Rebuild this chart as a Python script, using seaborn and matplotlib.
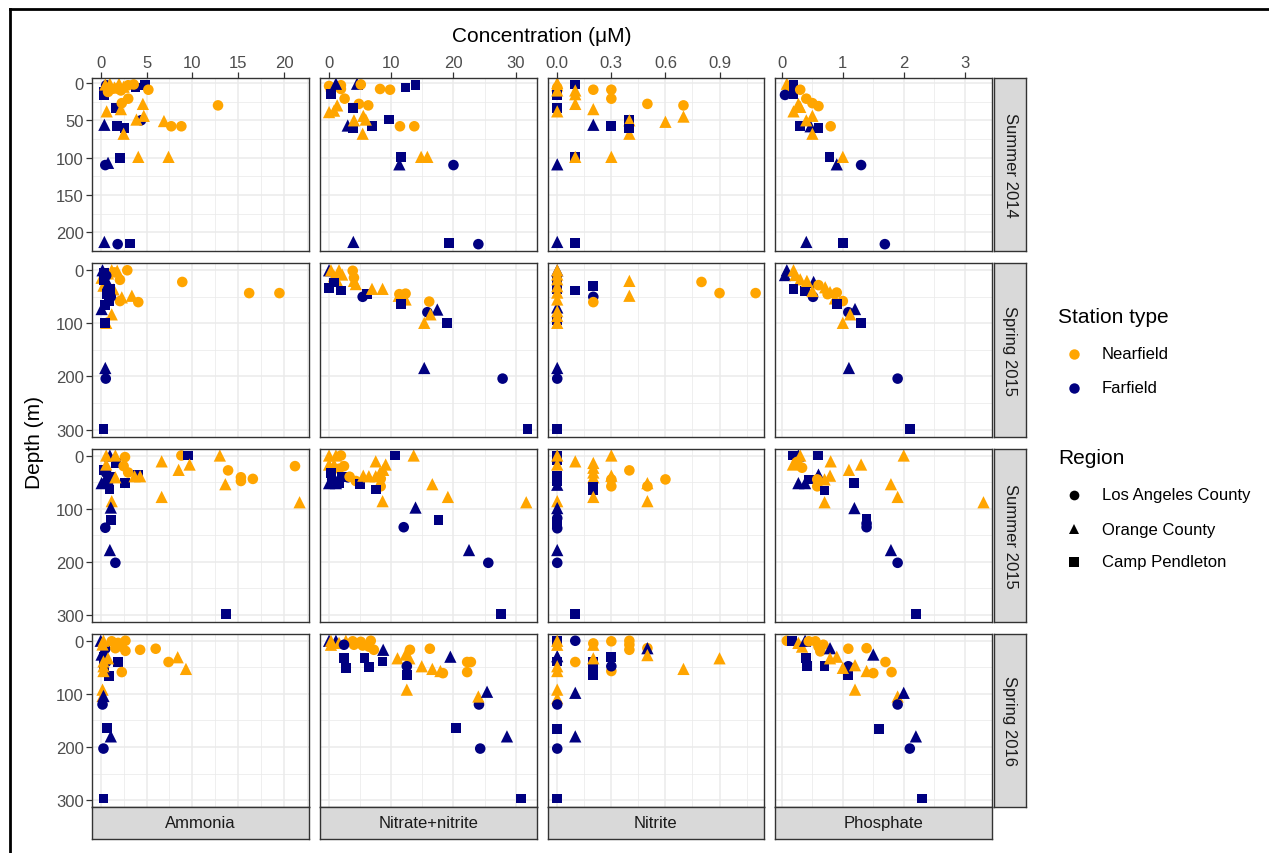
import numpy as np
import pandas as pd
import seaborn as sns
import matplotlib.pyplot as plt
from matplotlib.lines import Line2D
from matplotlib.ticker import FormatStrFormatter

# facet labels
seasons = ['Summer 2014', 'Spring 2015', 'Summer 2015', 'Spring 2016']
nutrients = ['Ammonia', 'Nitrate+nitrite', 'Nitrite', 'Phosphate']

# points per panel: (concentration uM, depth m, station type, region)
# N = Nearfield, F = Farfield ; LA / OC / CP = region
su14_amm = [(0.6, 3, 'F', 'LA'), (0.3, 12, 'F', 'CP'), (0.4, 16, 'F', 'CP'), (3.8, 6, 'F', 'CP'),
            (4.8, 3, 'F', 'CP'), (1.0, 5, 'F', 'OC'), (1.7, 34, 'F', 'CP'), (4.4, 50, 'F', 'LA'),
            (0.4, 56, 'F', 'OC'), (1.8, 58, 'F', 'CP'), (2.6, 60, 'F', 'CP'),
            (0.5, 2, 'N', 'OC'), (1.0, 1, 'N', 'OC'), (2.0, 1, 'N', 'OC'), (1.5, 6, 'N', 'OC'),
            (2.5, 5, 'N', 'OC'), (3.0, 3, 'N', 'LA'), (1.2, 8, 'N', 'LA'), (2.2, 10, 'N', 'LA'),
            (3.6, 2, 'N', 'LA'), (0.8, 12, 'N', 'LA'), (1.8, 7, 'N', 'LA'), (5.2, 9, 'N', 'LA'),
            (3.0, 21, 'N', 'LA'), (2.3, 27, 'N', 'LA'), (12.8, 30, 'N', 'LA'), (4.6, 28, 'N', 'OC'),
            (0.65, 38, 'N', 'OC'), (2.2, 35, 'N', 'OC'), (4.7, 44, 'N', 'OC'), (3.9, 49, 'N', 'OC'),
            (6.9, 51, 'N', 'OC'), (7.7, 58, 'N', 'LA'), (8.8, 58, 'N', 'LA'), (2.5, 68, 'N', 'OC'),
            (4.1, 99, 'N', 'OC'), (7.4, 99, 'N', 'OC'),
            (2.1, 100, 'F', 'CP'), (0.5, 110, 'F', 'LA'), (0.8, 107, 'F', 'OC'), (0.4, 213, 'F', 'OC'),
            (1.85, 216, 'F', 'LA'), (3.2, 215, 'F', 'CP')]

su14_no3 = [(0.0, 4, 'N', 'LA'), (0.3, 10, 'N', 'LA'), (1.9, 3, 'N', 'LA'), (1.9, 8, 'N', 'LA'),
            (1.1, 1, 'F', 'OC'), (0.3, 15, 'F', 'CP'), (4.5, 1, 'F', 'OC'), (5.1, 2, 'N', 'LA'),
            (8.2, 8, 'N', 'LA'), (9.8, 9, 'N', 'LA'), (12.3, 6, 'F', 'CP'), (13.9, 3, 'F', 'CP'),
            (2.5, 21, 'N', 'LA'), (4.8, 28, 'N', 'LA'), (6.3, 30, 'N', 'LA'), (1.3, 30, 'N', 'OC'),
            (0.8, 37, 'N', 'OC'), (0.0, 39, 'N', 'OC'), (3.9, 34, 'F', 'CP'), (3.0, 57, 'F', 'OC'),
            (3.9, 61, 'F', 'CP'), (6.9, 58, 'F', 'CP'), (9.6, 49, 'F', 'CP'), (5.5, 44, 'N', 'OC'),
            (5.9, 49, 'N', 'OC'), (4.0, 50, 'N', 'OC'), (11.4, 58, 'N', 'LA'), (13.7, 58, 'N', 'LA'),
            (5.4, 68, 'N', 'OC'), (11.5, 99, 'F', 'CP'), (11.3, 109, 'F', 'OC'), (14.8, 99, 'N', 'OC'),
            (15.8, 99, 'N', 'OC'), (20.0, 110, 'F', 'LA'), (3.9, 213, 'F', 'OC'), (19.3, 214, 'F', 'CP'),
            (24.0, 216, 'F', 'LA')]

su14_no2 = [(0.0, 0, 'N', 'OC'), (0.0, 3, 'N', 'OC'), (0.0, 6, 'N', 'LA'), (0.0, 16, 'F', 'CP'),
            (0.0, 10, 'N', 'OC'), (0.1, 2, 'F', 'CP'), (0.1, 10, 'N', 'OC'), (0.1, 15, 'N', 'OC'),
            (0.2, 9, 'N', 'LA'), (0.3, 9, 'N', 'LA'), (0.3, 21, 'N', 'LA'), (0.5, 28, 'N', 'LA'),
            (0.7, 30, 'N', 'LA'), (0.1, 28, 'N', 'OC'), (0.7, 45, 'N', 'OC'), (0.6, 52, 'N', 'OC'),
            (0.0, 34, 'F', 'CP'), (0.0, 38, 'N', 'OC'), (0.2, 35, 'N', 'OC'), (0.2, 56, 'F', 'OC'),
            (0.3, 58, 'F', 'CP'), (0.4, 49, 'F', 'CP'), (0.4, 50, 'N', 'OC'), (0.4, 68, 'N', 'OC'),
            (0.4, 61, 'F', 'CP'), (0.1, 99, 'F', 'CP'), (0.1, 99, 'N', 'OC'), (0.3, 99, 'N', 'OC'),
            (0.0, 109, 'F', 'OC'), (0.0, 213, 'F', 'OC'), (0.1, 214, 'F', 'CP')]

su14_po4 = [(0.08, 1, 'N', 'OC'), (0.12, 5, 'N', 'OC'), (0.1, 10, 'N', 'OC'), (0.15, 3, 'N', 'LA'),
            (0.19, 2, 'F', 'CP'), (0.19, 15, 'F', 'CP'), (0.05, 16, 'F', 'LA'), (0.3, 9, 'N', 'LA'),
            (0.4, 21, 'N', 'LA'), (0.5, 27, 'N', 'LA'), (0.6, 31, 'N', 'LA'), (0.19, 38, 'N', 'OC'),
            (0.3, 32, 'N', 'OC'), (0.27, 28, 'N', 'OC'), (0.29, 58, 'F', 'CP'), (0.6, 60, 'F', 'CP'),
            (0.47, 58, 'F', 'OC'), (0.5, 44, 'N', 'OC'), (0.4, 50, 'N', 'OC'), (0.8, 58, 'N', 'LA'),
            (0.5, 68, 'N', 'OC'), (0.78, 99, 'F', 'CP'), (0.9, 109, 'F', 'OC'), (1.0, 99, 'N', 'OC'),
            (1.3, 110, 'F', 'LA'), (0.4, 213, 'F', 'OC'), (1.0, 214, 'F', 'CP'), (1.69, 216, 'F', 'LA')]

sp15_amm = [(0.6, 99, 'N', 'OC'), (1.2, 83, 'N', 'OC'), (2.9, 0, 'N', 'LA'), (2.1, 18, 'N', 'LA'),
            (8.9, 22, 'N', 'LA'), (16.2, 43, 'N', 'LA'), (19.5, 43, 'N', 'LA'), (4.1, 60, 'N', 'LA'),
            (2.1, 58, 'N', 'LA'), (3.4, 48, 'N', 'OC'), (2.3, 51, 'N', 'OC'), (1.4, 36, 'N', 'OC'),
            (0.1, 14, 'N', 'OC'), (0.3, 29, 'N', 'OC'), (1.2, 0, 'N', 'OC'), (1.8, 1, 'N', 'OC'),
            (0.8, 6, 'N', 'OC'), (1.5, 4, 'N', 'LA'),
            (0.2, 0, 'F', 'OC'), (0.4, 5, 'F', 'CP'), (0.6, 10, 'F', 'LA'), (0.3, 18, 'F', 'CP'),
            (0.8, 25, 'F', 'OC'), (1.0, 35, 'F', 'CP'), (0.7, 45, 'F', 'CP'), (1.1, 50, 'F', 'LA'),
            (0.9, 58, 'F', 'CP'), (0.5, 65, 'F', 'CP'), (0.1, 73, 'F', 'OC'), (0.5, 99, 'F', 'CP'),
            (0.5, 184, 'F', 'OC'), (0.55, 204, 'F', 'LA'), (0.3, 299, 'F', 'CP')]

sp15_no3 = [(0.0, 0, 'F', 'OC'), (0.3, 0, 'N', 'OC'), (1.6, 0, 'N', 'OC'), (0.8, 11, 'N', 'OC'),
            (2.1, 8, 'N', 'OC'), (1.3, 20, 'N', 'OC'), (0.0, 33, 'F', 'CP'), (1.9, 38, 'F', 'CP'),
            (0.8, 23, 'F', 'CP'), (3.8, 1, 'N', 'LA'), (4.0, 14, 'N', 'LA'), (4.0, 20, 'N', 'OC'),
            (4.3, 26, 'N', 'OC'), (5.4, 50, 'F', 'LA'), (6.1, 45, 'F', 'CP'), (6.9, 35, 'N', 'OC'),
            (8.6, 35, 'N', 'OC'), (11.3, 45, 'N', 'LA'), (12.3, 44, 'N', 'LA'), (11.2, 48, 'N', 'OC'),
            (12.3, 55, 'N', 'OC'), (11.5, 64, 'F', 'CP'), (16.1, 59, 'N', 'LA'), (15.8, 79, 'F', 'LA'),
            (17.4, 74, 'F', 'OC'), (16.3, 83, 'N', 'OC'), (15.3, 99, 'N', 'OC'), (18.9, 100, 'F', 'CP'),
            (15.3, 184, 'F', 'OC'), (27.9, 204, 'F', 'LA'), (31.9, 299, 'F', 'CP')]

sp15_no2 = [(0.0, 0, 'F', 'OC'), (0.0, 20, 'F', 'CP'), (0.0, 36, 'F', 'CP'), (0.0, 70, 'F', 'OC'),
            (0.0, 93, 'F', 'CP'), (0.0, 0, 'N', 'OC'), (0.0, 8, 'N', 'OC'), (0.0, 17, 'N', 'OC'),
            (0.0, 30, 'N', 'OC'), (0.0, 42, 'N', 'OC'), (0.0, 55, 'N', 'OC'), (0.0, 77, 'N', 'OC'),
            (0.0, 86, 'N', 'OC'), (0.0, 99, 'N', 'OC'), (0.1, 38, 'F', 'CP'), (0.2, 30, 'F', 'CP'),
            (0.2, 50, 'F', 'LA'), (0.2, 60, 'N', 'LA'), (0.4, 20, 'N', 'OC'), (0.4, 48, 'N', 'OC'),
            (0.8, 22, 'N', 'LA'), (0.9, 43, 'N', 'LA'), (1.1, 43, 'N', 'LA'), (0.0, 184, 'F', 'OC'),
            (0.0, 204, 'F', 'LA'), (0.0, 299, 'F', 'CP')]

sp15_po4 = [(0.08, 0, 'F', 'OC'), (0.05, 9, 'F', 'OC'), (0.19, 0, 'N', 'OC'), (0.22, 9, 'N', 'OC'),
            (0.3, 17, 'N', 'OC'), (0.19, 36, 'F', 'CP'), (0.38, 39, 'F', 'CP'), (0.52, 22, 'F', 'OC'),
            (0.51, 50, 'F', 'LA'), (0.41, 20, 'N', 'OC'), (0.71, 32, 'N', 'OC'), (0.79, 41, 'N', 'OC'),
            (0.6, 28, 'N', 'LA'), (0.75, 45, 'N', 'LA'), (0.9, 42, 'N', 'LA'), (1.0, 58, 'N', 'LA'),
            (0.87, 53, 'N', 'OC'), (0.5, 39, 'N', 'OC'), (0.9, 64, 'F', 'CP'), (1.09, 79, 'F', 'LA'),
            (1.2, 73, 'F', 'OC'), (1.12, 83, 'N', 'OC'), (1.0, 99, 'N', 'OC'), (1.3, 100, 'F', 'CP'),
            (1.1, 184, 'F', 'OC'), (1.9, 204, 'F', 'LA'), (2.1, 299, 'F', 'CP')]

su15_amm = [(0.3, 27, 'F', 'CP'), (0.6, 33, 'F', 'LA'), (1.0, 40, 'F', 'CP'), (0.5, 45, 'F', 'OC'),
            (0.1, 52, 'F', 'OC'), (0.95, 64, 'F', 'CP'), (0.8, 55, 'F', 'LA'), (2.65, 52, 'F', 'CP'),
            (4.1, 36, 'F', 'CP'), (1.0, 0, 'F', 'OC'), (1.7, 14, 'F', 'CP'),
            (0.6, 0, 'N', 'OC'), (1.6, 0, 'N', 'OC'), (0.6, 17, 'N', 'OC'), (2.65, 3, 'N', 'LA'),
            (2.5, 20, 'N', 'LA'), (3.0, 32, 'N', 'LA'), (1.6, 41, 'N', 'OC'), (3.7, 39, 'N', 'OC'),
            (4.3, 39, 'N', 'OC'), (1.2, 86, 'N', 'OC'), (6.65, 11, 'N', 'OC'), (6.65, 78, 'N', 'OC'),
            (8.8, 0, 'N', 'LA'), (9.5, 0, 'F', 'CP'), (9.7, 17, 'N', 'OC'), (8.5, 27, 'N', 'OC'),
            (13.0, 0, 'N', 'OC'), (13.6, 54, 'N', 'OC'), (13.9, 28, 'N', 'LA'), (15.3, 41, 'N', 'LA'),
            (15.3, 48, 'N', 'LA'), (16.6, 44, 'N', 'LA'), (21.2, 20, 'N', 'LA'), (21.7, 88, 'N', 'OC'),
            (1.1, 98, 'F', 'OC'), (1.1, 122, 'F', 'CP'), (0.5, 136, 'F', 'LA'), (1.0, 178, 'F', 'OC'),
            (1.6, 202, 'F', 'LA'), (13.7, 299, 'F', 'CP')]

su15_no3 = [(0.0, 0, 'N', 'OC'), (1.1, 0, 'N', 'OC'), (1.9, 0, 'N', 'LA'), (0.0, 17, 'N', 'OC'),
            (0.8, 17, 'N', 'OC'), (2.4, 20, 'N', 'LA'), (1.6, 25, 'N', 'LA'),
            (0.0, 52, 'F', 'OC'), (1.1, 52, 'F', 'OC'), (2.1, 40, 'F', 'CP'), (1.6, 52, 'F', 'CP'),
            (0.3, 33, 'F', 'CP'), (0.5, 45, 'F', 'LA'), (3.0, 41, 'F', 'LA'), (3.3, 40, 'N', 'LA'),
            (4.3, 48, 'N', 'LA'), (5.0, 53, 'F', 'CP'), (5.5, 38, 'N', 'OC'), (6.4, 39, 'N', 'OC'),
            (7.5, 39, 'N', 'OC'), (7.5, 11, 'N', 'OC'), (9.1, 17, 'N', 'OC'), (8.7, 27, 'N', 'OC'),
            (8.2, 32, 'N', 'OC'), (8.3, 44, 'N', 'LA'), (8.3, 58, 'N', 'LA'), (7.5, 64, 'F', 'CP'),
            (8.6, 86, 'N', 'OC'), (10.6, 0, 'F', 'CP'), (13.6, 0, 'N', 'OC'), (16.6, 54, 'N', 'OC'),
            (19.1, 78, 'N', 'OC'), (31.7, 88, 'N', 'OC'), (13.9, 98, 'F', 'OC'), (12.0, 135, 'F', 'LA'),
            (17.6, 122, 'F', 'CP'), (22.5, 178, 'F', 'OC'), (25.6, 202, 'F', 'LA'), (27.6, 299, 'F', 'CP')]

su15_no2 = [(0.0, 0, 'F', 'CP'), (0.0, 8, 'F', 'CP'), (0.0, 39, 'F', 'CP'), (0.0, 48, 'F', 'CP'),
            (0.0, 55, 'F', 'OC'), (0.0, 0, 'N', 'OC'), (0.0, 17, 'N', 'OC'), (0.0, 86, 'N', 'OC'),
            (0.0, 99, 'F', 'OC'), (0.0, 118, 'F', 'LA'), (0.0, 127, 'F', 'CP'), (0.0, 137, 'F', 'LA'),
            (0.1, 11, 'N', 'OC'), (0.2, 14, 'N', 'OC'), (0.2, 23, 'N', 'OC'), (0.2, 32, 'N', 'OC'),
            (0.2, 41, 'N', 'OC'), (0.2, 60, 'F', 'CP'), (0.2, 66, 'F', 'CP'), (0.2, 78, 'N', 'OC'),
            (0.3, 0, 'N', 'OC'), (0.3, 38, 'N', 'OC'), (0.3, 45, 'N', 'LA'), (0.3, 58, 'N', 'LA'),
            (0.4, 28, 'N', 'LA'), (0.5, 52, 'N', 'OC'), (0.5, 86, 'N', 'OC'), (0.5, 58, 'N', 'LA'),
            (0.6, 45, 'N', 'LA'), (0.0, 178, 'F', 'OC'), (0.0, 202, 'F', 'LA'), (0.1, 299, 'F', 'CP')]

su15_po4 = [(0.18, 0, 'F', 'CP'), (0.27, 0, 'F', 'OC'), (0.18, 17, 'N', 'OC'), (0.3, 0, 'N', 'OC'),
            (0.33, 23, 'N', 'LA'), (0.25, 12, 'N', 'LA'), (0.59, 0, 'F', 'CP'), (0.27, 52, 'F', 'OC'),
            (0.38, 52, 'F', 'OC'), (0.6, 36, 'F', 'OC'), (0.44, 45, 'F', 'CP'), (0.58, 45, 'N', 'LA'),
            (0.58, 58, 'N', 'LA'), (0.7, 45, 'N', 'OC'), (0.79, 38, 'N', 'OC'), (0.7, 66, 'F', 'CP'),
            (0.7, 88, 'N', 'OC'), (0.8, 11, 'N', 'OC'), (1.1, 27, 'N', 'OC'), (1.3, 17, 'N', 'OC'),
            (1.19, 52, 'F', 'CP'), (2.0, 0, 'N', 'OC'), (1.79, 54, 'N', 'OC'), (1.9, 78, 'N', 'OC'),
            (1.19, 99, 'F', 'OC'), (1.39, 120, 'F', 'CP'), (1.39, 128, 'F', 'LA'), (1.39, 135, 'F', 'LA'),
            (1.79, 178, 'F', 'OC'), (1.9, 202, 'F', 'LA'), (2.2, 299, 'F', 'CP'), (3.31, 88, 'N', 'OC')]

sp16_amm = [(0.5, 15, 'F', 'LA'), (0.3, 30, 'F', 'CP'), (0.6, 40, 'F', 'LA'), (0.4, 50, 'F', 'CP'),
            (0.9, 67, 'F', 'CP'), (1.9, 40, 'F', 'CP'), (0.1, 26, 'F', 'OC'), (0.0, 0, 'F', 'OC'),
            (0.3, 0, 'N', 'OC'), (0.2, 7, 'N', 'OC'), (1.2, 1, 'N', 'LA'), (1.9, 4, 'N', 'LA'),
            (2.7, 0, 'N', 'LA'), (2.3, 11, 'N', 'LA'), (2.7, 19, 'N', 'LA'), (1.6, 14, 'N', 'LA'),
            (4.3, 17, 'N', 'LA'), (6.0, 15, 'N', 'LA'), (7.4, 40, 'N', 'LA'), (8.4, 31, 'N', 'OC'),
            (9.3, 53, 'N', 'OC'), (0.3, 39, 'N', 'OC'), (0.3, 48, 'N', 'OC'), (0.3, 57, 'N', 'OC'),
            (0.8, 33, 'N', 'OC'), (2.3, 59, 'N', 'LA'), (0.2, 92, 'N', 'OC'), (0.2, 104, 'N', 'OC'),
            (0.3, 104, 'F', 'OC'), (0.2, 120, 'F', 'LA'), (0.7, 165, 'F', 'CP'), (1.1, 180, 'F', 'OC'),
            (0.3, 203, 'F', 'LA'), (0.3, 297, 'F', 'CP')]

sp16_no3 = [(0.0, 0, 'F', 'OC'), (1.1, 0, 'F', 'OC'), (0.3, 0, 'N', 'OC'), (0.3, 7.5, 'N', 'OC'),
            (1.6, 4, 'N', 'OC'), (2.7, 0, 'N', 'OC'), (3.8, 1, 'N', 'LA'), (5.1, 2, 'N', 'LA'),
            (6.7, 0, 'N', 'LA'), (6.4, 11, 'N', 'LA'), (7.2, 17, 'N', 'LA'), (4.0, 7.5, 'N', 'LA'),
            (5.4, 9, 'N', 'LA'), (2.4, 7.5, 'F', 'LA'), (8.7, 17, 'F', 'OC'), (8.6, 39, 'F', 'CP'),
            (2.4, 33, 'F', 'CP'), (2.7, 51, 'F', 'CP'), (5.7, 33, 'F', 'CP'), (6.4, 50, 'F', 'CP'),
            (11.0, 33, 'N', 'OC'), (12.3, 26, 'N', 'OC'), (12.9, 33, 'N', 'OC'), (13.0, 17, 'N', 'LA'),
            (12.5, 48, 'F', 'LA'), (12.5, 64, 'F', 'CP'), (12.5, 92, 'N', 'OC'), (16.2, 15, 'N', 'LA'),
            (14.9, 48, 'N', 'OC'), (16.6, 53, 'N', 'OC'), (17.9, 57, 'N', 'OC'), (18.3, 61, 'N', 'LA'),
            (19.5, 30, 'F', 'OC'), (22.2, 40, 'N', 'LA'), (22.8, 40, 'N', 'LA'), (22.2, 59, 'N', 'LA'),
            (24.1, 120, 'F', 'LA'), (24.0, 105, 'N', 'OC'), (25.4, 96, 'F', 'OC'), (20.4, 165, 'F', 'CP'),
            (24.3, 203, 'F', 'LA'), (28.6, 180, 'F', 'OC'), (30.8, 297, 'F', 'CP')]

sp16_no2 = [(0.0, 0, 'F', 'CP'), (0.0, 29, 'F', 'OC'), (0.0, 39, 'F', 'CP'), (0.0, 0, 'N', 'OC'),
            (0.0, 7.5, 'N', 'OC'), (0.0, 48, 'N', 'OC'), (0.0, 57, 'N', 'OC'), (0.0, 92, 'N', 'OC'),
            (0.0, 108, 'N', 'OC'), (0.0, 120, 'F', 'LA'), (0.0, 166, 'F', 'CP'), (0.0, 203, 'F', 'LA'),
            (0.0, 297, 'F', 'CP'), (0.1, 0, 'F', 'LA'), (0.1, 40, 'N', 'LA'), (0.1, 98, 'F', 'OC'),
            (0.1, 180, 'F', 'OC'), (0.2, 7.5, 'N', 'OC'), (0.2, 5, 'N', 'LA'), (0.2, 39, 'F', 'CP'),
            (0.2, 51, 'F', 'CP'), (0.2, 64, 'F', 'CP'), (0.2, 33, 'N', 'OC'), (0.3, 1, 'N', 'LA'),
            (0.3, 57, 'N', 'LA'), (0.3, 31, 'F', 'CP'), (0.3, 48, 'F', 'LA'), (0.4, 0, 'N', 'LA'),
            (0.4, 7.5, 'N', 'LA'), (0.4, 17, 'N', 'LA'), (0.5, 14, 'N', 'LA'), (0.5, 14, 'F', 'OC'),
            (0.5, 27, 'N', 'OC'), (0.7, 53, 'N', 'OC'), (0.9, 33, 'N', 'OC')]

sp16_po4 = [(0.08, 0, 'N', 'LA'), (0.17, 0, 'F', 'CP'), (0.27, 4, 'N', 'OC'), (0.33, 11, 'N', 'OC'),
            (0.38, 0, 'F', 'OC'), (0.44, 1, 'N', 'LA'), (0.55, 1, 'N', 'LA'), (0.6, 11, 'N', 'LA'),
            (0.68, 7.5, 'N', 'LA'), (0.63, 20, 'N', 'LA'), (0.79, 14, 'F', 'OC'), (1.09, 15, 'N', 'LA'),
            (1.39, 14, 'N', 'LA'), (1.5, 26, 'F', 'OC'), (0.39, 33, 'F', 'CP'), (0.41, 48, 'F', 'CP'),
            (0.7, 48, 'F', 'CP'), (1.09, 48, 'F', 'LA'), (1.09, 64, 'F', 'CP'), (0.79, 33, 'N', 'OC'),
            (0.9, 30, 'N', 'OC'), (1.0, 51, 'N', 'OC'), (1.2, 46, 'N', 'OC'), (1.39, 57, 'N', 'OC'),
            (1.5, 61, 'N', 'LA'), (1.7, 40, 'N', 'LA'), (1.8, 59, 'N', 'LA'), (1.2, 92, 'N', 'OC'),
            (1.9, 105, 'N', 'OC'), (1.9, 120, 'F', 'LA'), (2.0, 98, 'F', 'OC'), (1.6, 166, 'F', 'CP'),
            (2.2, 180, 'F', 'OC'), (2.1, 203, 'F', 'LA'), (2.3, 297, 'F', 'CP')]

panels = {
    ('Summer 2014', 'Ammonia'): su14_amm, ('Summer 2014', 'Nitrate+nitrite'): su14_no3,
    ('Summer 2014', 'Nitrite'): su14_no2, ('Summer 2014', 'Phosphate'): su14_po4,
    ('Spring 2015', 'Ammonia'): sp15_amm, ('Spring 2015', 'Nitrate+nitrite'): sp15_no3,
    ('Spring 2015', 'Nitrite'): sp15_no2, ('Spring 2015', 'Phosphate'): sp15_po4,
    ('Summer 2015', 'Ammonia'): su15_amm, ('Summer 2015', 'Nitrate+nitrite'): su15_no3,
    ('Summer 2015', 'Nitrite'): su15_no2, ('Summer 2015', 'Phosphate'): su15_po4,
    ('Spring 2016', 'Ammonia'): sp16_amm, ('Spring 2016', 'Nitrate+nitrite'): sp16_no3,
    ('Spring 2016', 'Nitrite'): sp16_no2, ('Spring 2016', 'Phosphate'): sp16_po4,
}

station_names = {'N': 'Nearfield', 'F': 'Farfield'}
region_names = {'LA': 'Los Angeles County', 'OC': 'Orange County', 'CP': 'Camp Pendleton'}

rows = []
for (season, nut), pts in panels.items():
    for conc, depth, st, reg in pts:
        rows.append([season, nut, conc, depth, station_names[st], region_names[reg]])
df = pd.DataFrame(rows, columns=['season', 'nutrient', 'conc', 'depth', 'station', 'region'])

# styling
plt.rcParams['font.family'] = ['Liberation Sans', 'DejaVu Sans']
pal = {'Nearfield': '#FFA500', 'Farfield': '#000080'}
mk = {'Los Angeles County': 'o', 'Orange County': '^', 'Camp Pendleton': 's'}
# ggplot's filled triangle is drawn a bit bigger than its circle / square
msize = {'Los Angeles County': 58, 'Orange County': 78, 'Camp Pendleton': 50}

# scales per column / row (free x by nutrient, free y by season)
xlims = {'Ammonia': (-0.95, 22.7), 'Nitrate+nitrite': (-1.5, 33.35),
         'Nitrite': (-0.054, 1.148), 'Phosphate': (-0.11, 3.45)}
xmajor = {'Ammonia': [0, 5, 10, 15, 20], 'Nitrate+nitrite': [0, 10, 20, 30],
          'Nitrite': [0, 0.3, 0.6, 0.9], 'Phosphate': [0, 1, 2, 3]}
xminor = {'Ammonia': [2.5, 7.5, 12.5, 17.5, 22.5], 'Nitrate+nitrite': [5, 15, 25],
          'Nitrite': [0.15, 0.45, 0.75, 1.05], 'Phosphate': [0.5, 1.5, 2.5]}
ylims = [(225.5, -6.7), (313, -13.2), (313, -13.2), (313, -13.2)]
ymajor = [[0, 50, 100, 150, 200], [0, 100, 200, 300], [0, 100, 200, 300], [0, 100, 200, 300]]
yminor = [[25, 75, 125, 175], [50, 150, 250], [50, 150, 250], [50, 150, 250]]

W, H = 1269, 854
fig = plt.figure(figsize=(W / 100, H / 100), dpi=100)

left0, top0 = 92, 79
pw, ph = 216.75, 173.25
hgap, vgap = 11, 12
border = '#333333'

for i, season in enumerate(seasons):
    for j, nut in enumerate(nutrients):
        x0 = left0 + j * (pw + hgap)
        y0 = top0 + i * (ph + vgap)
        ax = fig.add_axes([x0 / W, 1 - (y0 + ph) / H, pw / W, ph / H])
        sub = df[(df['season'] == season) & (df['nutrient'] == nut)]
        sns.scatterplot(data=sub, x='conc', y='depth', hue='station', style='region',
                        size='region', sizes=msize, palette=pal, markers=mk,
                        linewidth=0, legend=False, ax=ax)
        ax.set_xlim(xlims[nut])
        ax.set_ylim(ylims[i])
        ax.set_xticks(xmajor[nut])
        ax.set_xticks(xminor[nut], minor=True)
        ax.set_yticks(ymajor[i])
        ax.set_yticks(yminor[i], minor=True)
        if nut == 'Nitrite':
            ax.xaxis.set_major_formatter(FormatStrFormatter('%.1f'))
        else:
            ax.xaxis.set_major_formatter(FormatStrFormatter('%g'))
        ax.grid(which='major', color='#EBEBEB', lw=1.1)
        ax.grid(which='minor', color='#EBEBEB', lw=0.55)
        ax.set_axisbelow(True)
        ax.set_facecolor('white')
        for sp in ax.spines.values():
            sp.set_color(border)
            sp.set_linewidth(1.0)
        ax.set_xlabel('')
        ax.set_ylabel('')
        ax.tick_params(which='minor', length=0)
        ax.tick_params(which='major', length=4, width=0.9, color=border,
                       labelsize=12, labelcolor='#4D4D4D', pad=2)
        # x axis only on top row, at the top
        ax.tick_params(axis='x', bottom=False, labelbottom=False,
                       top=(i == 0), labeltop=(i == 0))
        ax.tick_params(axis='y', left=(j == 0), labelleft=(j == 0))

        # strips
        if j == len(nutrients) - 1:
            sax = fig.add_axes([(x0 + pw + 2) / W, 1 - (y0 + ph) / H, 32 / W, ph / H])
            sax.set_facecolor('#D9D9D9')
            sax.set_xticks([])
            sax.set_yticks([])
            for sp in sax.spines.values():
                sp.set_color(border)
                sp.set_linewidth(1.0)
            sax.text(0.5, 0.5, season, rotation=-90, ha='center', va='center',
                     fontsize=12, color='#1A1A1A', transform=sax.transAxes)
        if i == len(seasons) - 1:
            sax = fig.add_axes([x0 / W, 1 - (y0 + ph + 32) / H, pw / W, 32 / H])
            sax.set_facecolor('#D9D9D9')
            sax.set_xticks([])
            sax.set_yticks([])
            for sp in sax.spines.values():
                sp.set_color(border)
                sp.set_linewidth(1.0)
            sax.text(0.5, 0.5, nut, ha='center', va='center',
                     fontsize=12, color='#1A1A1A', transform=sax.transAxes)

# axis titles
fig.text(542 / W, 1 - 37 / H, 'Concentration (\u03bcM)', ha='center', va='center', fontsize=15)
fig.text(35 / W, 1 - 443 / H, 'Depth (m)', ha='center', va='center', rotation=90, fontsize=15)

# legends (drawn by hand so they sit where ggplot put them)
fig.text(1058 / W, 1 - 318 / H, 'Station type', ha='left', va='center', fontsize=15)
for lab, yy in [('Nearfield', 355), ('Farfield', 389)]:
    fig.add_artist(Line2D([1074 / W], [1 - yy / H], marker='o', color=pal[lab],
                          markersize=7.5, linestyle='none', markeredgewidth=0))
    fig.text(1102 / W, 1 - yy / H, lab, ha='left', va='center', fontsize=12)

fig.text(1058 / W, 1 - 458 / H, 'Region', ha='left', va='center', fontsize=15)
for lab, yy in [('Los Angeles County', 496), ('Orange County', 530), ('Camp Pendleton', 563)]:
    fig.add_artist(Line2D([1074 / W], [1 - yy / H], marker=mk[lab], color='black',
                          markersize=7, linestyle='none', markeredgewidth=0))
    fig.text(1102 / W, 1 - yy / H, lab, ha='left', va='center', fontsize=12)

# frame of the screenshot (top and left edges)
fig.add_artist(Line2D([10 / W, 1], [1 - 10 / H, 1 - 10 / H], color='black', lw=2))
fig.add_artist(Line2D([10 / W, 10 / W], [0, 1 - 10 / H], color='black', lw=2))

fig.savefig('out.png', dpi=100)
